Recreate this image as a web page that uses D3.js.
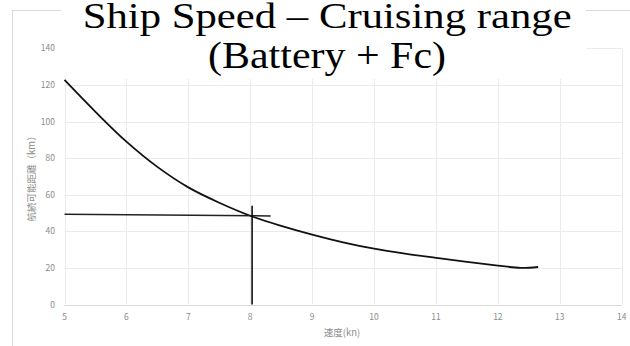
<!DOCTYPE html>
<html>
<head>
<meta charset="utf-8">
<script src="https://cdn.jsdelivr.net/npm/d3@7"></script>
<style>
  body { margin: 0; background: #fff; }
  svg { display: block; }
</style>
</head>
<body>
<div id="chart"></div>
<script>
// speed (kn) vs cruising range (km)
const speeds = [5, 5.5, 6, 6.5, 7, 7.5, 8, 8.5, 9, 9.5, 10, 10.5, 11, 11.5, 12, 12.37, 12.65];
const ranges = [122.7, 105.3, 89, 75.2, 64, 55.6, 48.5, 43, 38.2, 34, 30.5, 27.8, 25.5, 23.3, 21.3, 20, 20.5];
const xTicks = [5, 6, 7, 8, 9, 10, 11, 12, 13, 14];
const yTicks = [0, 20, 40, 60, 80, 100, 120, 140];
// reading guide lines (speed 8 -> ~49 km)
const guideH = [[5, 49.3], [8.33, 48.4]];
const guideV = [[8.03, 0], [8.03, 54]];
const titleLines = ["Ship Speed \u2013 Cruising range", "(Battery + Fc)"];

const width = 630, height = 346;
const svg = d3.select("#chart").append("svg")
  .attr("width", width)
  .attr("height", height);

const x = d3.scaleLinear().domain([5, 14]).range([64.5, 621.7]);
const y = d3.scaleLinear().domain([0, 140]).range([304.5, 48.3]);

// outer chart frame
svg.append("rect")
  .attr("x", 12.5).attr("y", 10.5)
  .attr("width", 640).attr("height", 360)
  .attr("fill", "none").attr("stroke", "#d9d9d9");

// gridlines
svg.append("g").selectAll("line").data(yTicks).join("line")
  .attr("x1", x(5)).attr("x2", x(14))
  .attr("y1", d => Math.round(y(d)) + 0.5).attr("y2", d => Math.round(y(d)) + 0.5)
  .attr("stroke", d => d === 0 ? "#d9d9d9" : "#ebebeb");
svg.append("g").selectAll("line").data(xTicks).join("line")
  .attr("x1", d => Math.round(x(d)) + 0.5).attr("x2", d => Math.round(x(d)) + 0.5)
  .attr("y1", y(0)).attr("y2", y(140))
  .attr("stroke", "#ebebeb");

// axes labels
const axisFont = "'Noto Sans CJK JP', 'Noto Sans', sans-serif";
svg.append("g").selectAll("text").data(yTicks).join("text")
  .attr("x", 55).attr("y", d => y(d) + 3)
  .attr("text-anchor", "end")
  .attr("font-family", axisFont).attr("font-size", 8.5)
  .attr("fill", "#8c8c8c")
  .text(d => d);
svg.append("g").selectAll("text").data(xTicks).join("text")
  .attr("x", d => x(d)).attr("y", 320)
  .attr("text-anchor", "middle")
  .attr("font-family", axisFont).attr("font-size", 8.5)
  .attr("fill", "#8c8c8c")
  .text(d => d);

svg.append("text")
  .attr("x", 342).attr("y", 336)
  .attr("text-anchor", "middle")
  .attr("font-family", axisFont).attr("font-size", 9.5)
  .attr("fill", "#8c8c8c")
  .text("速度(kn)");
svg.append("text")
  .attr("transform", `translate(35, ${(y(0) + y(140)) / 2}) rotate(-90)`)
  .attr("text-anchor", "middle")
  .attr("font-family", axisFont).attr("font-size", 9.5)
  .attr("fill", "#8c8c8c")
  .text("航続可能距離（km）");

// curve
const line = d3.line()
  .x(d => x(d[0])).y(d => y(d[1]))
  .curve(d3.curveCatmullRom.alpha(0.5));
svg.append("path")
  .datum(speeds.map((s, i) => [s, ranges[i]]))
  .attr("d", line)
  .attr("fill", "none")
  .attr("stroke", "#111")
  .attr("stroke-width", 1.8);

// guide lines
const straight = d3.line().x(d => x(d[0])).y(d => y(d[1]));
svg.append("path").attr("d", straight(guideH))
  .attr("stroke", "#222").attr("stroke-width", 1.5).attr("fill", "none");
svg.append("path").attr("d", straight(guideV))
  .attr("stroke", "#000").attr("stroke-width", 1.5).attr("fill", "none");

// title with white box over frame and top of plot
svg.append("rect")
  .attr("x", 61).attr("y", 0)
  .attr("width", 525).attr("height", 79)
  .attr("fill", "#fff");
const titleFont = "'Liberation Serif', 'Times New Roman', serif";
svg.append("text")
  .attr("x", 82.7).attr("y", 28)
  .attr("font-family", titleFont).attr("font-size", 36)
  .attr("textLength", 489).attr("lengthAdjust", "spacingAndGlyphs")
  .attr("fill", "#000")
  .text(titleLines[0]);
svg.append("text")
  .attr("x", 208).attr("y", 68)
  .attr("font-family", titleFont).attr("font-size", 38)
  .attr("textLength", 238).attr("lengthAdjust", "spacingAndGlyphs")
  .attr("fill", "#000")
  .text(titleLines[1]);
</script>
</body>
</html>
